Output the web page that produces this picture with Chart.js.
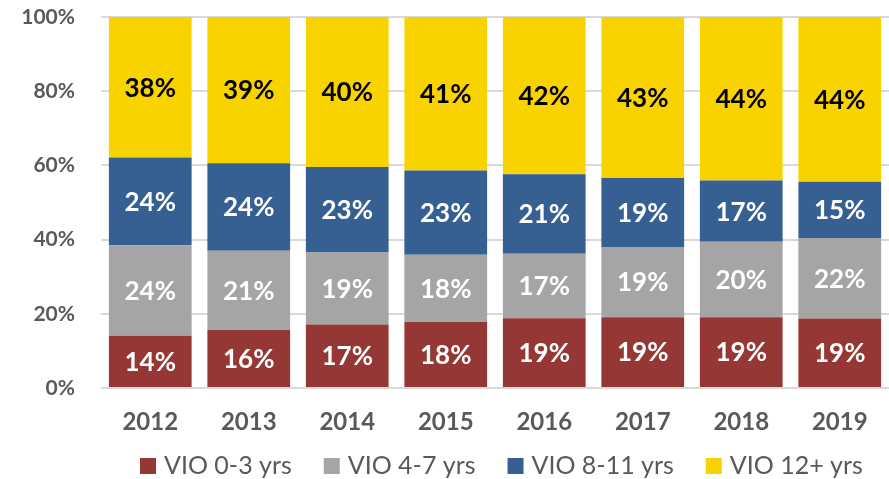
<!DOCTYPE html>
<html>
<head>
<meta charset="utf-8">
<script src="https://cdn.jsdelivr.net/npm/chart.js@4"></script>
<style>
  html, body { margin: 0; padding: 0; background: #fff; }
  #wrap { width: 889px; height: 479px; position: relative; }
</style>
</head>
<body>
<div id="wrap"><canvas id="vioChart"></canvas></div>
<script>
// Share of vehicles in operation by age band (%)
const years = ['2012', '2013', '2014', '2015', '2016', '2017', '2018', '2019'];
const vio0to3 = [14.1, 15.6, 17.1, 17.8, 18.8, 19.1, 19.1, 18.7];
const vio4to7 = [24.4, 21.4, 19.4, 18.1, 17.4, 18.9, 20.3, 21.7];
const vio8to11 = [23.6, 23.6, 23.1, 22.7, 21.4, 18.6, 16.5, 15.2];
const vio12plus = [37.9, 39.4, 40.4, 41.4, 42.4, 43.4, 44.1, 44.4];
const yTicks = [0, 20, 40, 60, 80, 100];

const textGrey = '#595959';
const fontFamily = 'Lato, "Open Sans", sans-serif';

// draws the % labels in the middle of every segment
const segmentLabels = {
    id: 'segmentLabels',
    afterDatasetsDraw(chart) {
        const ctx = chart.ctx;
        ctx.save();
        ctx.font = 'bold 26px ' + fontFamily;
        ctx.textAlign = 'center';
        ctx.textBaseline = 'middle';
        chart.data.datasets.forEach((ds, i) => {
            const meta = chart.getDatasetMeta(i);
            meta.data.forEach((bar, j) => {
                ctx.fillStyle = ds.labelColor;
                ctx.fillText(Math.round(ds.data[j]) + '%', bar.x, (bar.y + bar.base) / 2 + 1);
            });
        });
        ctx.restore();
    }
};

// legend drawn by hand so the spacing follows the original
const bottomLegend = {
    id: 'bottomLegend',
    afterDraw(chart) {
        const ctx = chart.ctx;
        ctx.save();
        ctx.font = '25px ' + fontFamily;
        ctx.textBaseline = 'middle';
        let x = 140;
        const y = 466;
        chart.data.datasets.forEach(ds => {
            ctx.fillStyle = ds.backgroundColor;
            ctx.fillRect(x, y - 8, 16, 16);
            ctx.fillStyle = textGrey;
            ctx.fillText(ds.label, x + 24, y);
            x += 24 + ctx.measureText(ds.label).width + 32;
        });
        ctx.restore();
    }
};

const ctx = document.getElementById('vioChart').getContext('2d');
const vioChart = new Chart(ctx, {
    type: 'bar',
    data: {
        labels: years,
        datasets: [
            { label: 'VIO 0-3 yrs', data: vio0to3, backgroundColor: '#953735', labelColor: '#ffffff' },
            { label: 'VIO 4-7 yrs', data: vio4to7, backgroundColor: '#a5a5a5', labelColor: '#ffffff' },
            { label: 'VIO 8-11 yrs', data: vio8to11, backgroundColor: '#376092', labelColor: '#ffffff' },
            { label: 'VIO 12+ yrs', data: vio12plus, backgroundColor: '#f8d300', labelColor: '#000000' }
        ]
    },
    options: {
        responsive: true,
        maintainAspectRatio: false,
        animation: false,
        barPercentage: 0.84,
        categoryPercentage: 1,
        layout: { padding: { top: 0, right: 0, bottom: 48, left: 0 } },
        plugins: {
            legend: { display: false },
            tooltip: { enabled: false }
        },
        scales: {
            x: {
                stacked: true,
                grid: { display: false },
                border: { display: false },
                ticks: {
                    color: textGrey,
                    font: { family: fontFamily, size: 24, weight: 'bold' },
                    padding: 12
                },
                afterFit(scale) { scale.height = 43; }
            },
            y: {
                stacked: true,
                min: 0,
                max: 100,
                afterBuildTicks(scale) { scale.ticks = yTicks.map(v => ({ value: v })); },
                grid: { color: '#d9d9d9', lineWidth: 2, drawTicks: false },
                border: { display: false },
                ticks: {
                    color: textGrey,
                    font: { family: fontFamily, size: 21, weight: 'bold' },
                    padding: 26,
                    callback: v => v + '%'
                },
                afterFit(scale) {
                    scale.width = 101;
                    scale.paddingTop = 17;
                    scale.paddingBottom = 0;
                }
            }
        }
    },
    plugins: [segmentLabels, bottomLegend]
});
</script>
</body>
</html>
